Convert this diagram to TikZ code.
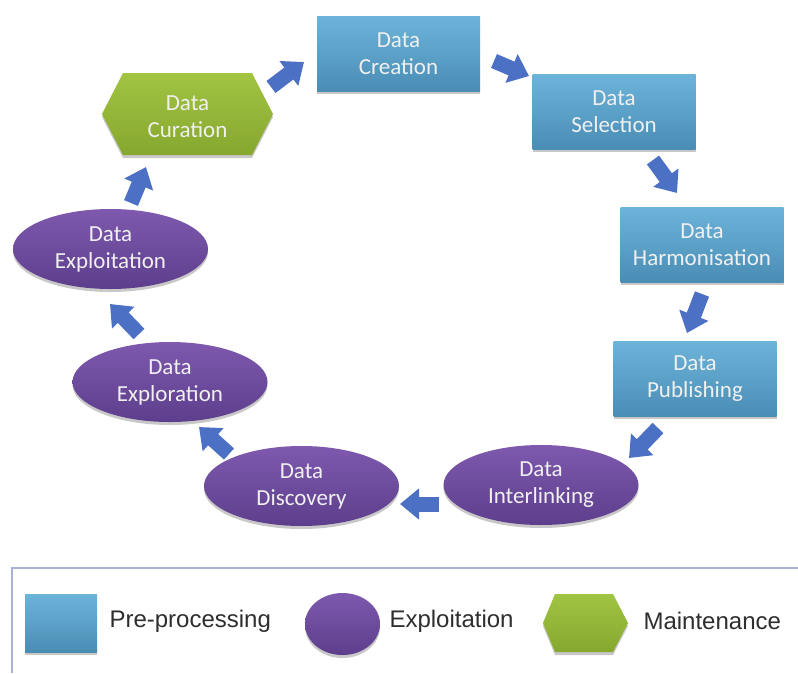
\documentclass[tikz,border=0pt]{standalone}
\usepackage{fontspec}
\setmainfont{Carlito}
\newfontfamily\legfont{Liberation Sans}
\usetikzlibrary{shapes.geometric,shadows,arrows.meta,calc}
\definecolor{blueT}{HTML}{6DB4DA}
\definecolor{blueB}{HTML}{4A8DB4}
\definecolor{purT}{HTML}{7E59AE}
\definecolor{purB}{HTML}{5D3E8C}
\definecolor{grnT}{HTML}{A2C443}
\definecolor{grnB}{HTML}{86A72E}
\definecolor{arrowblue}{HTML}{4C70C4}
\definecolor{legline}{HTML}{A7B4D8}
\definecolor{legtext}{HTML}{2E2E2E}
\begin{document}
\begin{tikzpicture}[x=1pt,y=-1pt,
  shd/.style={drop shadow={shadow xshift=0pt,shadow yshift=-3pt,opacity=0.3,fill=black!70}},
  nodetext/.style={text=white!94!black,align=center,font=\fontsize{23}{27}\selectfont},
  prep/.style={rectangle,minimum width=163,minimum height=75,inner sep=0pt,top color=blueT,bottom color=blueB,shd,nodetext},
  expl/.style={ellipse,minimum width=195,minimum height=80,inner sep=0pt,top color=purT,bottom color=purB,shd,nodetext},
  hexfill/.style={top color=grnT,bottom color=grnB,shd},
  barrow/.style={line width=15pt,draw=arrowblue,-{Triangle[length=19pt,width=30pt,fill=arrowblue]}},
  legtxt/.style={anchor=west,text=legtext,font=\legfont\fontsize{24}{28}\selectfont}
]
\useasboundingbox (0,0) rectangle (798,673);
\fill[white] (0,0) rectangle (798,673);

% hexagon (curation)
\path[hexfill] (102,114) -- (123,73) -- (252,73) -- (273,114) -- (252,155) -- (123,155) -- cycle;
\node[nodetext] (cur) at (187.5,117) {Data\\Curation};

\node[prep] (cre) at (398.5,53.5) {Data\\Creation};
\node[prep] (sel) at (614,111.5) {Data\\Selection};
\node[prep] (har) at (702,244.5) {Data\\Harmonisation};
\node[prep] (pub) at (695,378.5) {Data\\Publishing};

\node[expl] (int) at (541,485) {Data\\Interlinking};
\node[expl] (dis) at (301.5,486) {Data\\Discovery};
\node[expl] (exr) at (170,382) {Data\\Exploration};
\node[expl] (exi) at (110.5,249) {Data\\Exploitation};

% block arrows
\coordinate (t1) at (131,203); \coordinate (h1) at (146,167);
\coordinate (t2) at (271,87);  \coordinate (h2) at (304,62);
\coordinate (t3) at (494,61);  \coordinate (h3) at (529,76);
\coordinate (t4) at (653,160); \coordinate (h4) at (677,193);
\coordinate (t5) at (702,294); \coordinate (h5) at (687,333);
\coordinate (t6) at (658,428); \coordinate (h6) at (629,458);
\coordinate (t7) at (439,504); \coordinate (h7) at (400,504);
\coordinate (t8) at (229,454); \coordinate (h8) at (199,427);
\coordinate (t9) at (139,334); \coordinate (h9) at (110,304);
\foreach \i in {1,...,9} {\draw[barrow] (t\i) -- (h\i);}

% legend
\draw[legline,line width=1.5pt] (12,673) -- (12,568) -- (798,568);
\node[rectangle,minimum width=72,minimum height=58,top color=blueT,bottom color=blueB,shd] (lg1) at (61,623) {};
\node[legtxt] (lt1) at (106,621) {Pre-processing};
\node[ellipse,minimum width=75,minimum height=62,inner sep=0pt,top color=purT,bottom color=purB,shd] (lg2) at (342.5,624) {};
\node[legtxt] (lt2) at (386,621) {Exploitation};
\path[hexfill] (543,623) -- (555,594) -- (613,594) -- (628,623) -- (613,652) -- (555,652) -- cycle;
\node[legtxt] (lt3) at (640,621) {Maintenance};
\end{tikzpicture}
\end{document}
